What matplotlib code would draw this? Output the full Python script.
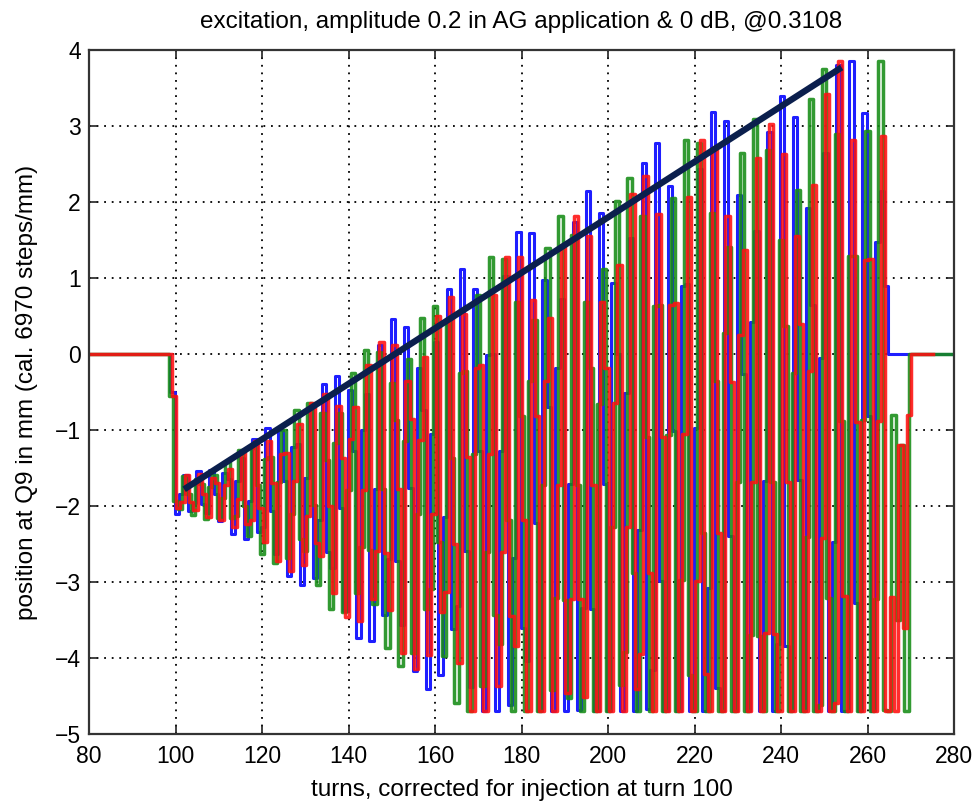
import numpy as np
import matplotlib
matplotlib.use("Agg")
import matplotlib.pyplot as plt

# ---------------- data ----------------
pre_turns = list(range(80, 99))          # before injection: position 0

green_osc = [  # turns 99..265
    -0.55,
    -1.94, -2.04, -1.60, -1.84, -2.12, -1.65, -1.71, -2.17, -1.75, -1.59,
    -2.16, -1.89, -1.42, -2.16, -2.13, -1.26, -2.00, -2.40, -1.24, -1.72,
    -2.63, -1.38, -1.36, -2.75, -1.68, -1.00, -2.69, -2.11, -0.74, -2.43,
    -2.59, -0.65, -1.99, -3.04, -0.78, -1.40, -3.35, -1.17, -0.78, -3.40,
    -1.79, -0.25, -3.14, -2.54, 0.05, -2.58, -3.29, 0.02, -1.78, -3.87,
    -0.38, -0.87, -4.11, -1.14, -0.07, -3.93, -2.10, 0.47, -3.35, -3.09,
    0.63, -2.47, -3.97, 0.42, -1.37, -4.59, -0.25, -0.22, -4.70, -1.32,
    0.78, -4.37, -2.61, 1.28, -3.44, -3.82, 1.25, -2.19, -4.70, 0.69,
    -0.81, -4.70, -0.36, 0.45, -4.70, -1.73, 1.39, -4.42, -3.21, 1.81,
    -3.24, -4.52, 1.57, -1.72, -4.70, 0.69, -0.18, -4.70, -0.66, 1.12,
    -4.70, -2.27, 2.01, -4.36, -3.92, 2.31, -2.88, -4.70, 1.81, -1.09,
    -4.70, 0.63, 0.65, -4.70, -1.06, 2.05, -4.70, -2.98, 2.82, -4.23,
    -4.70, 2.77, -2.36, -4.70, 1.86, -0.35, -4.70, 0.28, 1.41, -4.70,
    -1.68, 2.64, -4.70, -3.70, 3.09, -3.71, -4.70, 2.69, -1.68, -4.70,
    1.50, 0.37, -4.70, -0.25, 2.16, -4.70, -2.41, 3.36, -4.70, -4.62,
    3.75, -3.21, -4.70, 2.90, -0.88, -4.70, 1.29, 1.29, -4.70, -0.87,
    2.94, -4.70, -3.22, 3.85, -4.69, -4.70,
]
green_tail = [-0.80, -3.50, -1.20, -4.70]          # turns 266..269
green_end = 280

red_osc = [  # turns 99..265
    -0.55,
    -2.03, -1.95, -1.59, -1.95, -2.05, -1.58, -1.84, -2.15, -1.63, -1.70,
    -2.19, -1.73, -1.51, -2.28, -1.91, -1.29, -2.24, -2.18, -1.15, -2.03,
    -2.48, -1.15, -1.70, -2.73, -1.32, -1.30, -2.85, -1.67, -0.92, -2.77,
    -2.13, -0.64, -2.49, -2.66, -0.53, -2.00, -3.15, -0.69, -1.37, -3.46,
    -1.12, -0.70, -3.51, -1.79, -0.15, -3.22, -2.59, 0.16, -2.62, -3.37,
    0.12, -1.77, -3.93, -0.35, -0.85, -4.15, -1.13, -0.04, -3.96, -2.10,
    0.50, -3.40, -3.13, 0.75, -2.50, -4.07, 0.53, -1.35, -4.70, -0.18,
    -0.15, -4.70, -1.31, 0.78, -4.37, -2.61, 1.28, -3.45, -3.84, 1.28,
    -2.19, -4.70, 0.71, -0.81, -4.70, -0.35, 0.47, -4.70, -1.73, 1.43,
    -4.46, -3.22, 1.82, -3.23, -4.51, 1.55, -1.72, -4.70, 0.68, -0.18,
    -4.70, -0.65, 1.17, -4.70, -2.28, 2.11, -4.41, -3.95, 2.34, -2.88,
    -4.70, 1.84, -1.09, -4.70, 0.65, 0.67, -4.70, -1.05, 2.07, -4.70,
    -2.99, 2.82, -4.21, -4.70, 2.71, -2.35, -4.70, 1.81, -0.37, -4.70,
    0.25, 1.37, -4.70, -1.68, 2.58, -4.70, -3.67, 3.02, -3.68, -4.70,
    2.63, -1.68, -4.70, 1.55, 0.40, -4.70, -0.23, 2.22, -4.70, -2.42,
    3.42, -4.70, -4.59, 3.85, -3.18, -4.70, 2.81, -0.89, -4.70, 1.24,
    1.25, -4.70, -0.88, 2.87, -4.70, -3.20,
]
red_tail = [-4.70, -1.20, -3.60, -0.80]            # turns 266..269
red_end = 275

blue_osc = [  # turns 99..264
    -0.50,
    -2.10, -1.84, -1.59, -2.06, -1.96, -1.54, -1.97, -2.09, -1.53, -1.84,
    -2.20, -1.57, -1.64, -2.37, -1.67, -1.37, -2.44, -1.93, -1.12, -2.34,
    -2.27, -0.98, -2.07, -2.63, -1.00, -1.67, -2.92, -1.22, -1.19, -3.04,
    -1.63, -0.74, -2.95, -2.19, -0.39, -2.61, -2.82, -0.29, -2.03, -3.38,
    -0.48, -1.28, -3.74, -1.00, -0.52, -3.77, -1.78, 0.12, -3.44, -2.70,
    0.46, -2.73, -3.56, 0.35, -1.76, -4.17, -0.18, -0.74, -4.41, -1.05,
    0.16, -4.22, -2.14, 0.85, -3.62, -3.32, 1.12, -2.59, -4.38, 0.86,
    -1.28, -4.70, -0.01, 0.00, -4.70, -1.27, 1.03, -4.62, -2.69, 1.60,
    -3.61, -4.04, 1.59, -2.23, -4.70, 0.97, -0.70, -4.70, -0.19, 0.72,
    -4.70, -1.71, 1.74, -4.69, -3.34, 2.14, -3.35, -4.70, 1.85, -1.71,
    -4.70, 0.93, 0.00, -4.70, -0.51, 1.53, -4.70, -2.32, 2.51, -4.67,
    -4.16, 2.77, -2.99, -4.70, 2.21, -1.01, -4.70, 0.90, 0.92, -4.70,
    -0.97, 2.43, -4.70, -3.08, 3.18, -4.40, -4.70, 3.06, -2.39, -4.70,
    2.09, -0.26, -4.70, 0.42, 1.62, -4.70, -1.67, 2.92, -4.70, -3.81,
    3.40, -3.84, -4.70, 3.12, -1.66, -4.70, 1.92, 0.64, -4.70, -0.05,
    2.65, -4.70, -2.47, 3.80, -4.70, -4.70, 3.85, -3.28, -4.70, 3.17,
    -0.82, -4.70, 1.48, 2.15, 0.90,
]
blue_end = 280

fit_turns = [102, 254]
fit_values = [-1.78, 3.77]

title = "excitation, amplitude 0.2 in AG application & 0 dB, @0.3108"
xlabel = "turns, corrected for injection at turn 100"
ylabel = "position at Q9 in mm (cal. 6970 steps/mm)"
xticks = list(range(80, 281, 20))
yticks = list(range(-5, 5))


def build(osc, tail, end):
    vals = [0.0] * len(pre_turns) + list(osc) + list(tail)
    last = 80 + len(vals) - 1
    vals += [0.0] * (end - last)
    turns = np.arange(80, 80 + len(vals))
    return turns, np.array(vals)


# ---------------- figure ----------------
plt.rcParams['font.family'] = ['Liberation Sans', 'DejaVu Sans']
fig = plt.figure(figsize=(9.77, 8.05), dpi=100)
ax = fig.add_axes([0.0911, 0.0882, 0.8854, 0.8497])

tb, vb = build(blue_osc, [], blue_end)
tg, vg = build(green_osc, green_tail, green_end)
tr, vr = build(red_osc, red_tail, red_end)

lw = 2.5
ax.step(tb - 0.2, vb, where='post', color='#1e1eff', lw=2.2, zorder=3)
ax.step(tg - 0.5, vg, where='post', color='#158c15', lw=lw, zorder=4,
        alpha=0.88)
ax.step(tr + 0.15, vr, where='post', color='#ff1010', lw=lw, zorder=5,
        alpha=0.88)

ax.plot(fit_turns, fit_values, color='#0b1f4d', lw=4.6, zorder=6,
        solid_capstyle='butt')

ax.set_xlim(80, 280)
ax.set_ylim(-5, 4)
ax.set_xticks(xticks)
ax.set_yticks(yticks)
ax.grid(True, color='black', linestyle=(0, (1, 3.2)), lw=1.3)
for gl in ax.get_xgridlines() + ax.get_ygridlines():
    gl.set_zorder(7)

ax.tick_params(direction='in', length=6, width=1.2, top=True, right=True,
               labelsize=16.5, colors='#222222', labelcolor='black')
ax.tick_params(axis='x', pad=8)
ax.tick_params(axis='y', pad=6)
for s in ax.spines.values():
    s.set_linewidth(1.6)
    s.set_color('#333333')
    s.set_zorder(8)

ax.set_title(title, fontsize=17.5, pad=16)
ax.set_xlabel(xlabel, fontsize=17.5, labelpad=8)
ax.set_ylabel(ylabel, fontsize=17.5, labelpad=12)

fig.savefig("out.png", dpi=100)
